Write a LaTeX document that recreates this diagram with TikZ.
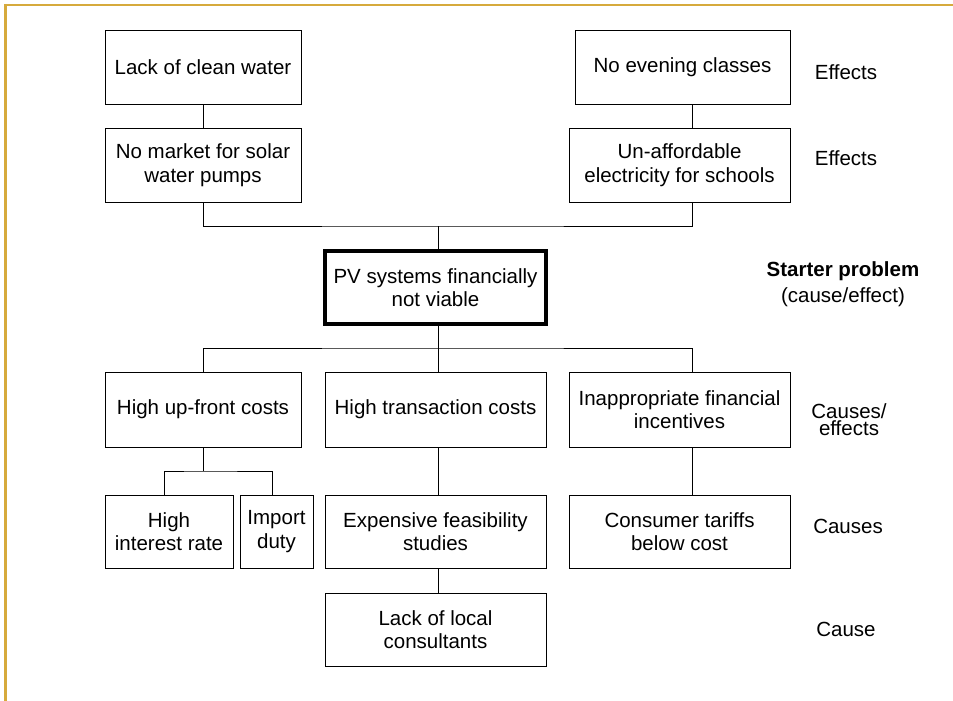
\documentclass[tikz,border=0pt]{standalone}
\usepackage{fontspec}
\setmainfont{Liberation Sans}
\definecolor{frameGold}{HTML}{D6AA3C}
\begin{document}
\begin{tikzpicture}[x=1pt,y=-1pt,
  every node/.style={font=\fontsize{20.5}{23.5}\selectfont, inner sep=0pt},
  box/.style={draw=black, line width=1pt, align=center, minimum height=73pt},
  keybox/.style={box, line width=3.2pt, minimum height=73pt},
  tag/.style={align=center},
  link/.style={draw=black, line width=1pt}]
\useasboundingbox (0,0) rectangle (953,701);

% page frame
\draw[frameGold, line width=2.8pt] (4,5) -- (953,5);
\draw[frameGold, line width=2.8pt] (5.5,4) -- (5.5,701);

% effects
\node[box, minimum width=196pt] (water)  at (203,67.5)  {Lack of clean water};
\node[box, minimum width=215pt] (evening) at (682.5,67.5) {No evening classes};
\node[box, minimum width=196pt, minimum height=74pt] (market) at (203,165) {No market for solar\\water pumps};
\node[box, minimum width=221pt, minimum height=74pt] (unaff) at (679.5,165) {Un-affordable\\electricity for schools};

% starter problem
\node[keybox, minimum width=221pt] (pv) at (435.5,287.5) {PV systems financially\\not viable};

% causes / effects
\node[box, minimum width=196pt, minimum height=75pt] (upfront) at (203,409.5) {High up-front costs};
\node[box, minimum width=221pt, minimum height=75pt] (trans) at (435.5,409.5) {High transaction costs};
\node[box, minimum width=221pt, minimum height=75pt] (incent) at (679.5,409.5) {Inappropriate financial\\incentives};

% causes
\node[box, minimum width=128pt] (interest) at (169,531.5) {High\\interest rate};
\node[box, minimum width=73pt] (duty) at (276.5,531.5) {Import\\duty};
\node[box, minimum width=221pt] (feas) at (435.5,531.5) {Expensive feasibility\\studies};
\node[box, minimum width=221pt] (tariff) at (679.5,531.5) {Consumer tariffs\\below cost};
\node[box, minimum width=221pt] (consult) at (435.5,629.5) {Lack of local\\consultants};

% column guides and junctions
\coordinate (cl) at (203,0);
\coordinate (cm) at (438,0);
\coordinate (cr) at (692,0);
\coordinate (jtop) at (0,226);
\coordinate (jmid) at (0,348);
\coordinate (jlow) at (0,471);
\coordinate (ca) at (164,0);
\coordinate (cb) at (272,0);

% connectors
\draw[link] (water.south -| cl) -- (market.north -| cl);
\draw[link] (evening.south -| cr) -- (unaff.north -| cr);
\draw[link] (market.south -| cl) |- (jtop -| cm) -| (unaff.south -| cr);
\draw[link] (jtop -| cm) -- (pv.north -| cm);
\draw[link] (pv.south -| cm) -- (jmid -| cm);
\draw[link] (upfront.north -| cl) |- (jmid -| cm) -| (incent.north -| cr);
\draw[link] (jmid -| cm) -- (trans.north -| cm);
\draw[link] (upfront.south -| cl) -- (jlow -| cl);
\draw[link] (interest.north -| ca) |- (jlow -| cl) -| (duty.north -| cb);
\draw[link] (trans.south -| cm) -- (feas.north -| cm);
\draw[link] (feas.south -| cm) -- (consult.north -| cm);
\draw[link] (incent.south -| cr) -- (tariff.north -| cr);

% level labels
\node[tag] (l1) at (846,72) {Effects};
\node[tag] (l2) at (846,158) {Effects};
\node[tag, font=\fontsize{20.5}{26}\selectfont] (l3) at (843,284) {\textbf{Starter problem}\\(cause/effect)};
\node[tag, font=\fontsize{20.5}{16.5}\selectfont] (l4) at (849,419.5) {Causes/\\effects};
\node[tag] (l5) at (848,526) {Causes};
\node[tag] (l6) at (846,629) {Cause};
\end{tikzpicture}
\end{document}
